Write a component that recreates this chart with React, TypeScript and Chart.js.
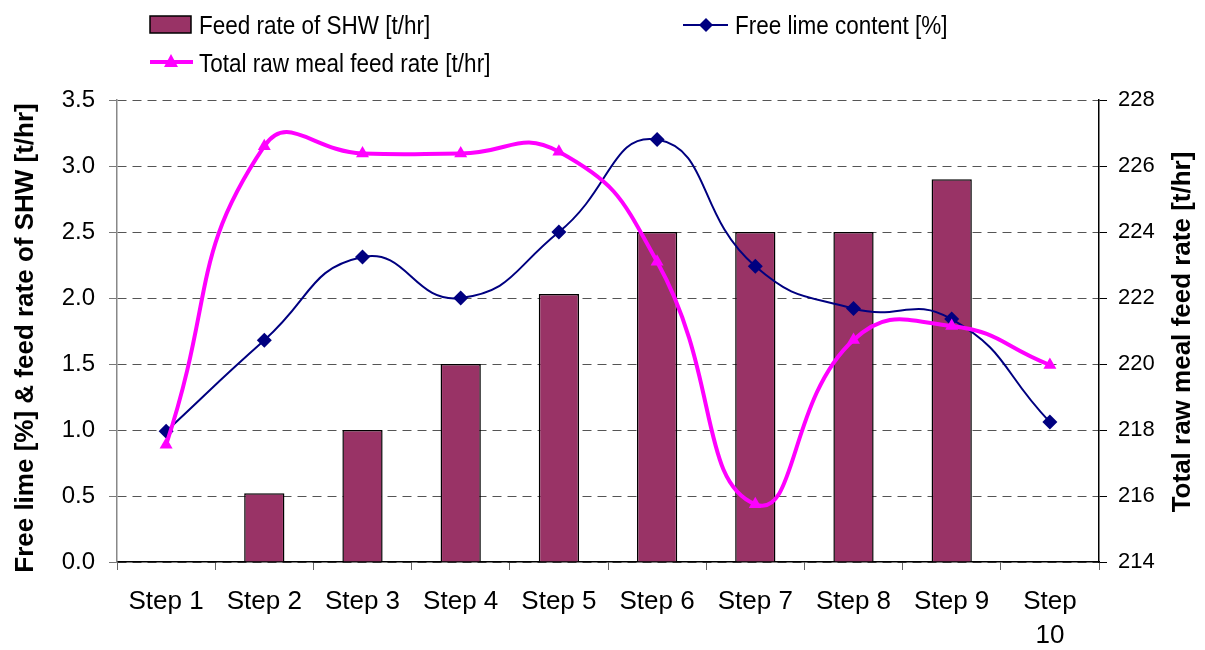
import React, { useEffect, useRef } from "react";
import { Chart, registerables } from "chart.js";

Chart.register(...registerables);

const categories = ["Step 1", "Step 2", "Step 3", "Step 4", "Step 5", "Step 6", "Step 7", "Step 8", "Step 9", "Step 10"];
const shwFeedRate: (number | null)[] = [null, 0.52, 1.0, 1.5, 2.03, 2.5, 2.5, 2.5, 2.9, null];
const freeLime = [0.99, 1.68, 2.31, 2.0, 2.5, 3.2, 2.24, 1.92, 1.84, 1.06];
const rawMealFeed = [217.55, 226.6, 226.38, 226.38, 226.43, 223.1, 215.75, 220.73, 221.15, 219.97];

const leftTicks = { min: 0, max: 3.5, step: 0.5 };
const rightTicks = { min: 214, max: 228, step: 2 };

const seriesNames = ["Feed rate of SHW [t/hr]", "Free lime content [%]", "Total raw meal feed rate [t/hr]"];
const leftTitle = "Free lime [%] & feed rate of SHW [t/hr]";
const rightTitle = "Total raw meal feed rate [t/hr]";

const BAR = "#993366";
const NAVY = "#000080";
const MAGENTA = "#FF00FF";
const FONT = "'Liberation Sans', Arial, sans-serif";

export default function App() {
  const ref = useRef<HTMLCanvasElement | null>(null);

  useEffect(() => {
    document.body.style.margin = "0";
    const canvas = ref.current;
    if (!canvas) return;

    const stretchedText = (ctx: CanvasRenderingContext2D, text: string, x: number, y: number) => {
      ctx.save();
      ctx.translate(x, y);
      ctx.scale(1, 1.18);
      ctx.fillText(text, 0, 0);
      ctx.restore();
    };

    const overlay = {
      id: "overlay",
      afterDraw(chart: any) {
        const ctx = chart.ctx as CanvasRenderingContext2D;
        ctx.save();
        // axis titles
        ctx.fillStyle = "#000";
        ctx.font = `bold 26px ${FONT}`;
        ctx.textAlign = "center";
        ctx.textBaseline = "middle";
        ctx.save();
        ctx.translate(26, 338);
        ctx.rotate(-Math.PI / 2);
        ctx.fillText(leftTitle, 0, 0);
        ctx.restore();
        ctx.save();
        ctx.translate(1183, 332);
        ctx.rotate(-Math.PI / 2);
        ctx.fillText(rightTitle, 0, 0);
        ctx.restore();

        // legend
        ctx.textAlign = "left";
        ctx.textBaseline = "alphabetic";
        ctx.font = `22.5px ${FONT}`;
        // bar swatch
        ctx.fillStyle = BAR;
        ctx.fillRect(150, 16, 41, 17);
        ctx.strokeStyle = "#000";
        ctx.lineWidth = 1.5;
        ctx.strokeRect(150, 16, 41, 17);
        ctx.fillStyle = "#000";
        stretchedText(ctx, seriesNames[0], 199, 34);
        // free lime
        ctx.strokeStyle = NAVY;
        ctx.lineWidth = 2;
        ctx.beginPath();
        ctx.moveTo(683, 25);
        ctx.lineTo(728, 25);
        ctx.stroke();
        ctx.fillStyle = NAVY;
        ctx.beginPath();
        ctx.moveTo(706, 18);
        ctx.lineTo(713, 25);
        ctx.lineTo(706, 32);
        ctx.lineTo(699, 25);
        ctx.closePath();
        ctx.fill();
        ctx.fillStyle = "#000";
        stretchedText(ctx, seriesNames[1], 735, 34);
        // raw meal
        ctx.strokeStyle = MAGENTA;
        ctx.lineWidth = 4;
        ctx.beginPath();
        ctx.moveTo(150, 62);
        ctx.lineTo(193, 62);
        ctx.stroke();
        ctx.fillStyle = MAGENTA;
        ctx.beginPath();
        ctx.moveTo(171, 54);
        ctx.lineTo(178, 67);
        ctx.lineTo(164, 67);
        ctx.closePath();
        ctx.fill();
        ctx.fillStyle = "#000";
        stretchedText(ctx, seriesNames[2], 199, 72);
        ctx.restore();
      },
    };

    const chart = new Chart(canvas, {
      type: "bar",
      data: {
        labels: categories,
        datasets: [
          {
            type: "line",
            label: seriesNames[2],
            data: rawMealFeed,
            yAxisID: "y1",
            borderColor: MAGENTA,
            backgroundColor: MAGENTA,
            borderWidth: 4,
            pointStyle: "triangle",
            pointRadius: 7.5,
            pointBorderWidth: 0,
            pointBackgroundColor: MAGENTA,
            tension: 0.5,
            fill: false,
            order: 1,
          } as any,
          {
            type: "line",
            label: seriesNames[1],
            data: freeLime,
            yAxisID: "y",
            borderColor: NAVY,
            backgroundColor: NAVY,
            borderWidth: 2,
            pointStyle: "rectRot",
            pointRadius: 7.5,
            pointBorderWidth: 0,
            pointBackgroundColor: NAVY,
            tension: 0.5,
            fill: false,
            order: 2,
          } as any,
          {
            type: "bar",
            label: seriesNames[0],
            data: shwFeedRate,
            yAxisID: "y",
            backgroundColor: BAR,
            borderColor: "#000",
            borderWidth: 1.5,
            barPercentage: 0.41,
            categoryPercentage: 1,
            order: 3,
          } as any,
        ],
      },
      options: {
        responsive: false,
        animation: false,
        devicePixelRatio: 1,
        layout: { padding: { top: 100, left: 0, right: 0, bottom: 0 } },
        plugins: {
          legend: { display: false },
          tooltip: { enabled: false },
          title: { display: false },
        },
        scales: {
          x: {
            type: "category",
            offset: true,
            grid: {
              offset: true,
              drawOnChartArea: false,
              drawTicks: true,
              tickLength: 8,
              color: "#666",
              tickColor: "#666",
            },
            border: { display: true, color: "#000", width: 1.5 },
            ticks: {
              color: "#000",
              font: { family: FONT, size: 26, lineHeight: 1.3 },
              padding: 15,
              maxRotation: 0,
              autoSkip: false,
              callback: function (this: any, value: any) {
                const lab = String(this.getLabelForValue(value));
                return lab.length > 6 ? lab.split(" ") : lab;
              },
            },
            afterFit: (s: any) => {
              s.height = 88;
            },
          } as any,
          y: {
            type: "linear",
            position: "left",
            min: leftTicks.min,
            max: leftTicks.max,
            ticks: {
              stepSize: leftTicks.step,
              color: "#000",
              font: { family: FONT, size: 24 },
              padding: 14,
              callback: (v: any) => Number(v).toFixed(1),
            },
            grid: {
              color: "#555",
              lineWidth: 1,
              tickLength: 8,
              tickColor: "#777",
              tickBorderDash: [],
            },
            border: { display: true, color: "#888", width: 1.5, dash: [9, 6] },
            afterFit: (s: any) => {
              s.width = 117;
            },
          } as any,
          y1: {
            type: "linear",
            position: "right",
            min: rightTicks.min,
            max: rightTicks.max,
            ticks: {
              stepSize: rightTicks.step,
              color: "#000",
              font: { family: FONT, size: 22 },
              padding: 11,
              callback: (v: any) => String(v),
            },
            grid: {
              drawOnChartArea: false,
              tickLength: 8,
              color: "#000",
              tickColor: "#000",
            },
            border: { display: true, color: "#000", width: 1.5 },
            afterFit: (s: any) => {
              s.width = 106;
            },
          } as any,
        },
      },
      plugins: [overlay],
    });

    return () => chart.destroy();
  }, []);

  return (
    <div style={{ width: 1205, height: 650, background: "#fff" }}>
      <canvas ref={ref} width={1205} height={650} style={{ display: "block", width: 1205, height: 650 }} />
    </div>
  );
}
